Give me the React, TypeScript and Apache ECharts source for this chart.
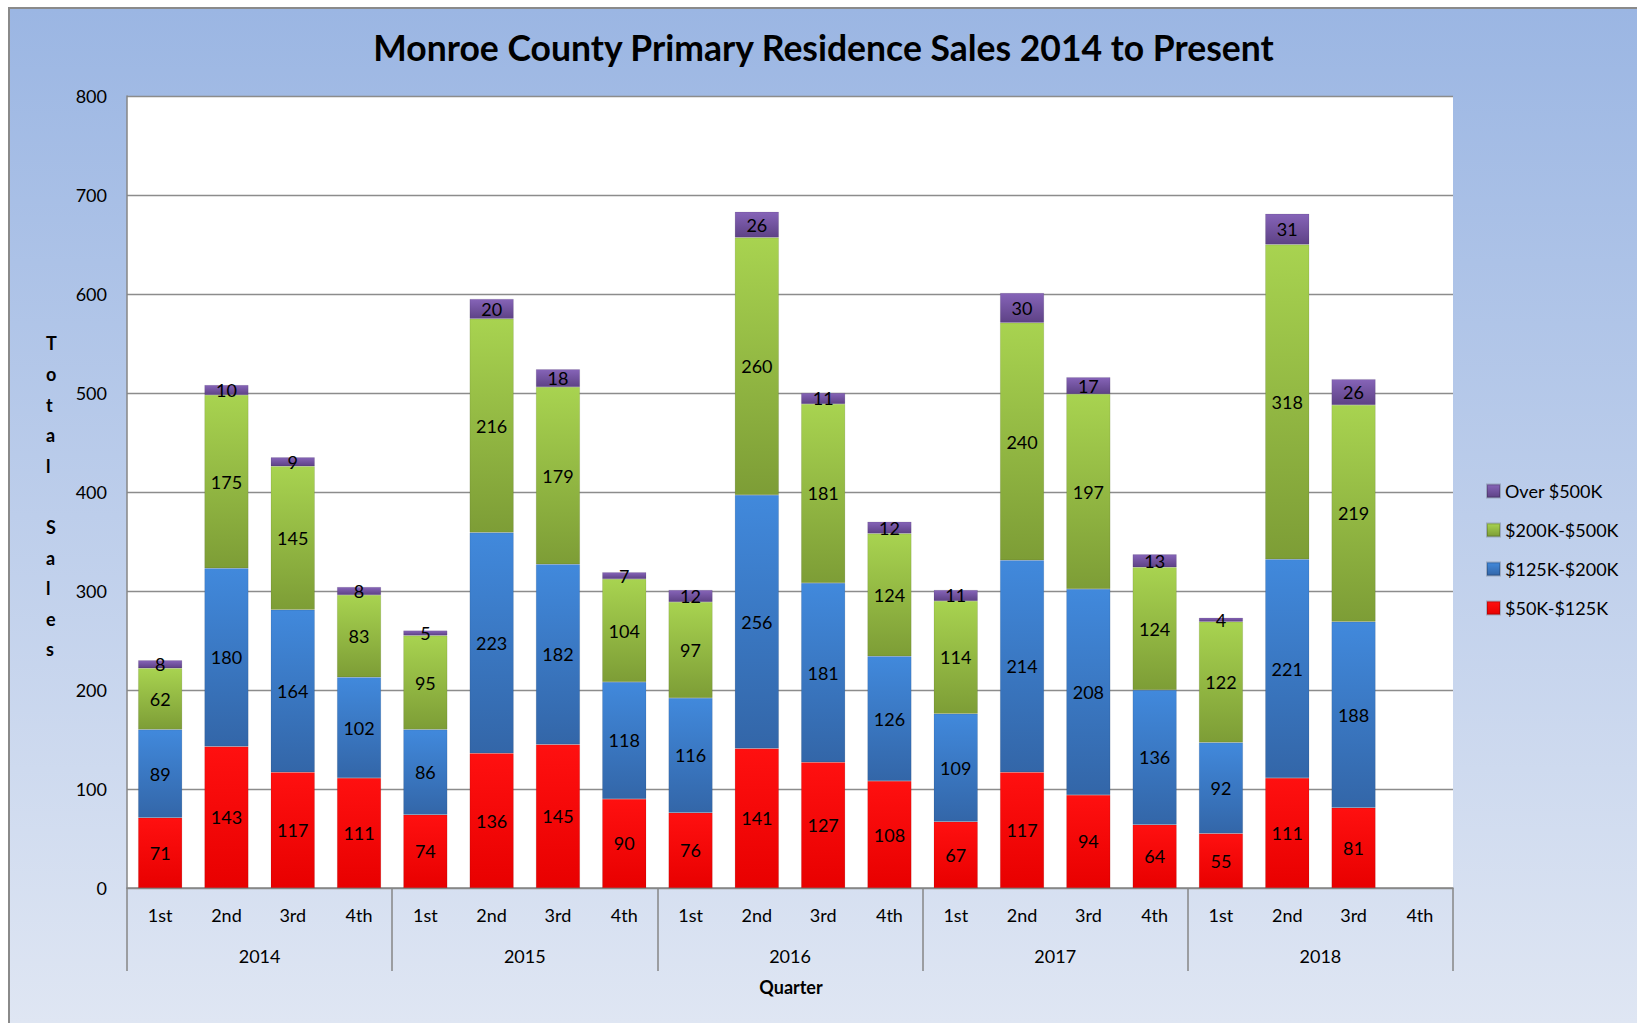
import React, { useEffect, useRef } from "react";
import * as echarts from "echarts";

const quarters = ["1st", "2nd", "3rd", "4th", "1st", "2nd", "3rd", "4th", "1st", "2nd", "3rd", "4th", "1st", "2nd", "3rd", "4th", "1st", "2nd", "3rd", "4th"];
const years = ["2014", "2015", "2016", "2017", "2018"];
const yTicks = [0, 100, 200, 300, 400, 500, 600, 700, 800];

const s50to125 = [71, 143, 117, 111, 74, 136, 145, 90, 76, 141, 127, 108, 67, 117, 94, 64, 55, 111, 81, null];
const s125to200 = [89, 180, 164, 102, 86, 223, 182, 118, 116, 256, 181, 126, 109, 214, 208, 136, 92, 221, 188, null];
const s200to500 = [62, 175, 145, 83, 95, 216, 179, 104, 97, 260, 181, 124, 114, 240, 197, 124, 122, 318, 219, null];
const sOver500 = [8, 10, 9, 8, 5, 20, 18, 7, 12, 26, 11, 12, 11, 30, 17, 13, 4, 31, 26, null];

const FONT = "Lato, 'Open Sans', sans-serif";

function grad(top: string, bottom: string) {
  return new echarts.graphic.LinearGradient(0, 0, 0, 1, [
    { offset: 0, color: top },
    { offset: 1, color: bottom },
  ]);
}

export default function App() {
  const ref = useRef<HTMLDivElement>(null);
  useEffect(() => {
    if (!ref.current) return;
    const chart = echarts.init(ref.current, null, { renderer: "svg" });
    const label = {
      show: true,
      position: "inside" as const,
      color: "#000",
      fontSize: 18,
      fontFamily: FONT,
    };
    const mk = (name: string, data: (number | null)[], top: string, bottom: string) => ({
      name,
      type: "bar" as const,
      stack: "total",
      data,
      barWidth: 44,
      xAxisIndex: 0,
      label,
      itemStyle: { color: grad(top, bottom), borderColor: "rgba(0,0,0,0.18)", borderWidth: 0.5 },
    });
    chart.setOption({
      animation: false,
      backgroundColor: new echarts.graphic.LinearGradient(0, 0, 0, 1, [
        { offset: 0, color: "#9BB6E3" },
        { offset: 1, color: "#DFE6F3" },
      ]),
      textStyle: { fontFamily: FONT },
      title: {
        text: "Monroe County Primary Residence Sales 2014 to Present",
        left: "center",
        top: 15,
        textStyle: { fontSize: 35.5, fontWeight: "bold", color: "#000", fontFamily: FONT },
      },
      legend: {
        orient: "vertical",
        left: 1471,
        top: 467,
        itemWidth: 13,
        itemHeight: 13,
        itemGap: 19,
        icon: "rect",
        data: ["Over $500K", "$200K-$500K", "$125K-$200K", "$50K-$125K"],
        textStyle: { fontSize: 18, color: "#000", fontFamily: FONT, lineHeight: 20 },
      },
      grid: {
        left: 117,
        top: 87,
        right: 184,
        bottom: 135,
        show: true,
        backgroundColor: "#fff",
        borderWidth: 0,
      },
      xAxis: [
        {
          type: "category",
          data: quarters,
          position: "bottom",
          axisLine: { show: true, lineStyle: { color: "#868686", width: 1.5 } },
          axisTick: { show: false },
          axisLabel: { color: "#000", fontSize: 18, margin: 18, fontFamily: FONT, interval: 0 },
        },
        {
          type: "category",
          data: years,
          position: "bottom",
          axisLine: { show: false },
          axisTick: { show: true, length: 83, interval: 0, lineStyle: { color: "#868686", width: 1.5 } },
          axisLabel: { color: "#000", fontSize: 18, margin: 59, fontFamily: FONT, interval: 0 },
        },
      ],
      yAxis: {
        type: "value",
        min: yTicks[0],
        max: yTicks[yTicks.length - 1],
        interval: 100,
        axisLine: { show: true, lineStyle: { color: "#868686", width: 1.5 } },
        axisTick: { show: false },
        splitLine: { show: true, lineStyle: { color: "#8C8C8C", width: 1.3 } },
        axisLabel: { color: "#000", fontSize: 18, margin: 20, fontFamily: FONT },
      },
      graphic: [
        {
          type: "text",
          left: 36,
          top: 319,
          style: {
            text: "T\no\nt\na\nl\n\nS\na\nl\ne\ns",
            fontSize: 18,
            fontWeight: "bold",
            lineHeight: 30.6,
            fill: "#000",
            align: "center",
            fontFamily: FONT,
          },
        },
        {
          type: "text",
          x: 781,
          y: 978,
          style: {
            text: "Quarter",
            fontSize: 18,
            fontWeight: "bold",
            fill: "#000",
            align: "center",
            verticalAlign: "middle",
            fontFamily: FONT,
          },
        },
      ],
      series: [
        mk("$50K-$125K", s50to125, "#FF1010", "#E80000"),
        mk("$125K-$200K", s125to200, "#4189DC", "#3366A8"),
        mk("$200K-$500K", s200to500, "#A8D350", "#7D9D36"),
        mk("Over $500K", sOver500, "#8664B8", "#5E4286"),
      ],
    });
    return () => chart.dispose();
  }, []);
  return (
    <div
      ref={ref}
      style={{
        position: "absolute",
        left: 8,
        top: 7,
        width: 1629,
        height: 1016,
        borderLeft: "2px solid #8a8a8a",
        borderTop: "2px solid #8a8a8a",
        boxSizing: "border-box",
      }}
    />
  );
}
